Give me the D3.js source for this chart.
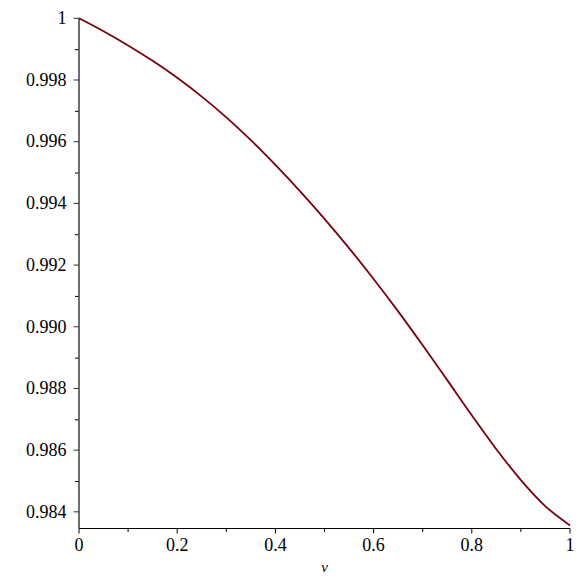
<!DOCTYPE html>
<meta charset="utf-8">
<style>
 body { margin: 0; background: #fff; }
 svg { background: #fff; }
</style>
<body>
<svg width="581" height="581"></svg>
</body>
<script src="https://cdn.jsdelivr.net/npm/d3@7"></script>
<script>
// values
var vs   = [0, 0.05, 0.10, 0.15, 0.20, 0.25, 0.30, 0.35, 0.40, 0.45, 0.50,
            0.55, 0.60, 0.65, 0.70, 0.75, 0.80, 0.85, 0.90, 0.95, 1.00];
var vals = [1.00000, 0.99958, 0.99912, 0.99862, 0.99807, 0.99746, 0.99679,
            0.99605, 0.99525, 0.99440, 0.99350, 0.99255, 0.99155, 0.99050,
            0.98940, 0.98827, 0.98713, 0.98603, 0.98503, 0.98418, 0.98356];

var xTicks = [0, 0.2, 0.4, 0.6, 0.8, 1];
var xTickLabels = ["0", "0.2", "0.4", "0.6", "0.8", "1"];
var xMinor = [0.1, 0.3, 0.5, 0.7, 0.9];
var yTicks = [0.984, 0.986, 0.988, 0.990, 0.992, 0.994, 0.996, 0.998, 1];
var yTickLabels = ["0.984", "0.986", "0.988", "0.990", "0.992", "0.994", "0.996", "0.998", "1"];
var yMinor = [0.985, 0.987, 0.989, 0.991, 0.993, 0.995, 0.997, 0.999];
var xName = "v";

var serif = "'Liberation Serif', 'Times New Roman', serif";
var svg = d3.select("svg");

var x = d3.scaleLinear().domain([0, 1]).range([79, 570]);
var y = d3.scaleLinear().domain([0.98346, 1]).range([528.5, 18.3]);

// minor ticks first so the axes sit on top
svg.append("g")
   .attr("transform", "translate(0,528.5)")
   .call(d3.axisBottom(x).tickValues(xMinor).tickSize(3.5).tickFormat("").offset(0))
   .call(function(g){ g.select(".domain").remove(); });
svg.append("g")
   .attr("transform", "translate(79,0)")
   .call(d3.axisLeft(y).tickValues(yMinor).tickSize(4).tickFormat("").offset(0.5))
   .call(function(g){ g.select(".domain").remove(); });

var xAxisG = svg.append("g")
   .attr("transform", "translate(0,528.5)")
   .call(d3.axisBottom(x)
          .tickValues(xTicks)
          .tickSize(5)
          .tickSizeOuter(0)
          .tickPadding(5)
          .offset(0)
          .tickFormat(function(d, i){ return xTickLabels[i]; }));

var yAxisG = svg.append("g")
   .attr("transform", "translate(79,0)")
   .call(d3.axisLeft(y)
          .tickValues(yTicks)
          .tickSize(5.5)
          .tickSizeOuter(0)
          .tickPadding(7)
          .offset(0)
          .tickFormat(function(d, i){ return yTickLabels[i]; }));
yAxisG.select(".domain").attr("stroke", "#4a4a4a").attr("stroke-width", 1.6);
yAxisG.selectAll(".tick line").attr("stroke", "#333");

svg.selectAll(".tick text")
   .style("font-family", serif)
   .style("font-size", "18px")
   .style("fill", "#000");

var line = d3.line()
   .x(function(d, i){ return x(vs[i]); })
   .y(function(d){ return y(d); })
   .curve(d3.curveCatmullRom.alpha(0.5));

svg.append("path")
   .datum(vals)
   .attr("fill", "none")
   .attr("stroke", "#78000E")
   .attr("stroke-width", 1.8)
   .attr("d", line);

svg.append("text")
   .attr("x", x(0.5))
   .attr("y", 572)
   .attr("text-anchor", "middle")
   .style("font-family", serif)
   .style("font-size", "15px")
   .style("font-style", "italic")
   .text(xName);
</script>
